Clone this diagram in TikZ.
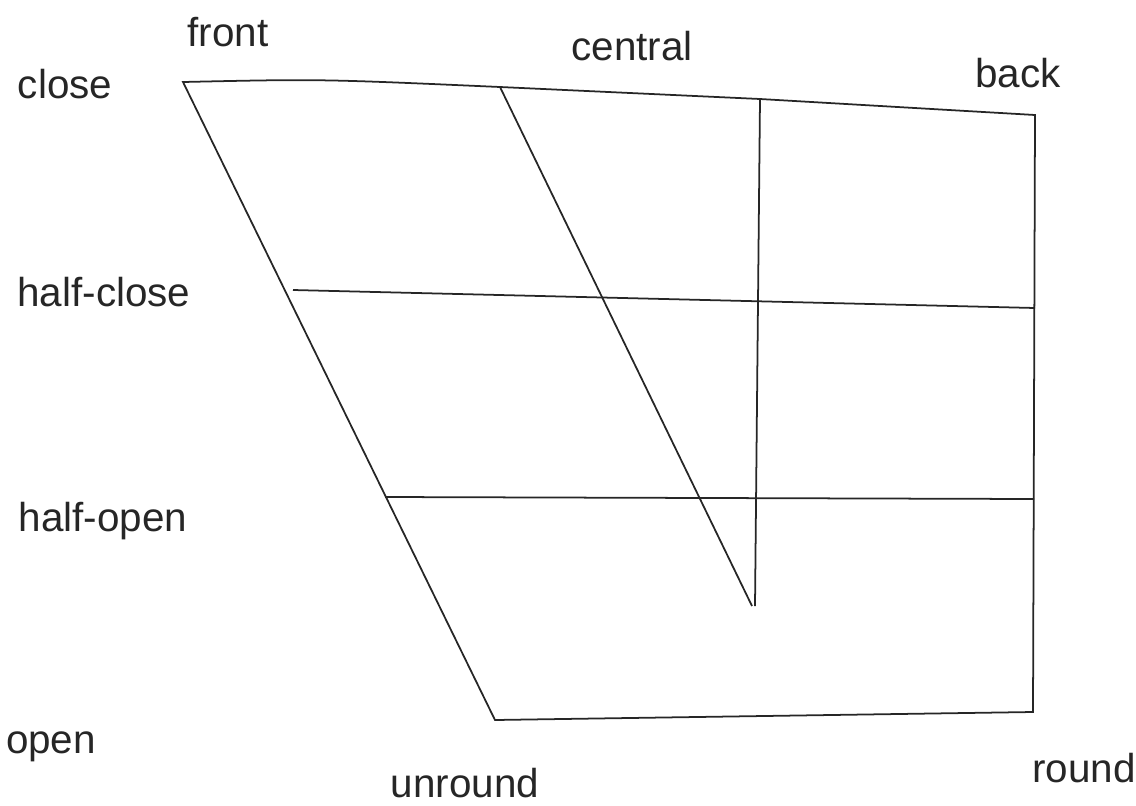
\documentclass[tikz,border=0pt]{standalone}
\usepackage{fontspec}
\setmainfont{Liberation Sans}
\tikzset{
  chartline/.style={line width=1pt, black!85},
  lbl/.style={anchor=base, inner sep=0pt, font=\fontsize{23}{27}\selectfont, black!85}
}
\begin{document}
\begin{tikzpicture}[x=0.02cm, y=-0.02cm]
    \useasboundingbox (0,0) rectangle (1136,805);
    % corners of the chart
    \coordinate (fc) at (183,82);
    \coordinate (cc) at (500,87);
    \coordinate (bc) at (760,99);
    \coordinate (rc) at (1035,115);
    \coordinate (fo) at (495,720);
    \coordinate (ro) at (1033,712);
    \coordinate (hcl) at (293,290);
    \coordinate (hcr) at (1035,308);
    \coordinate (hol) at (385,497);
    \coordinate (hor) at (1034,499);
    \coordinate (cb) at (752,606);
    \coordinate (vb) at (755,606);
    % outline
    \draw[chartline] (fc) .. controls (320,79) .. (cc) -- (bc) -- (rc) -- (ro) -- (fo) -- cycle;
    \draw[chartline] (hcl) -- (hcr);
    \draw[chartline] (hol) -- (hor);
    \draw[chartline] (cc) -- (cb);
    \draw[chartline] (bc) -- (vb);
    % labels
    \node[lbl] (close) at (65,98) {close};
    \node[lbl] (front) at (228,46) {front};
    \node[lbl] (central) at (632,60) {central};
    \node[lbl] (back) at (1018,87) {back};
    \node[lbl] (halfclose) at (104,306) {half-close};
    \node[lbl] (halfopen) at (103,531) {half-open};
    \node[lbl] (open) at (51,753) {open};
    \node[lbl] (unround) at (465,797) {unround};
    \node[lbl] (round) at (1084,782) {round};
\end{tikzpicture}
\end{document}
